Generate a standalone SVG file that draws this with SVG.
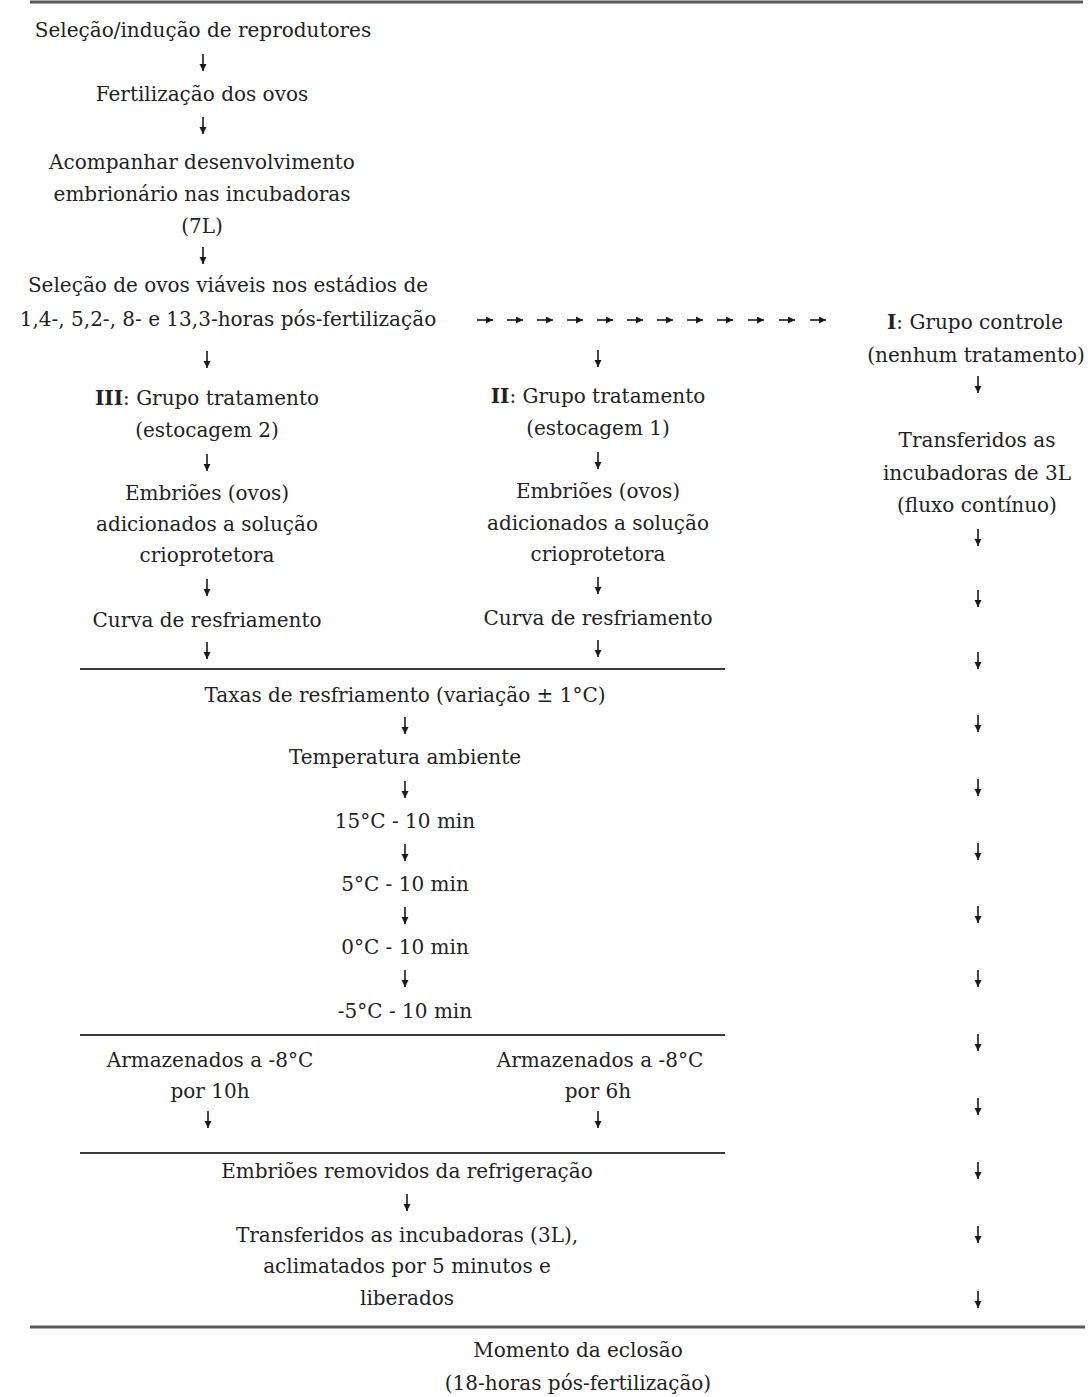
<svg xmlns="http://www.w3.org/2000/svg" width="1091" height="1397" viewBox="0 0 1091 1397">
<defs>
<marker id="ah" markerUnits="userSpaceOnUse" markerWidth="9" markerHeight="9" refX="7" refY="3.5" orient="auto">
<path d="M0,0 L7,3.5 L0,7 z" fill="#1a1a1a"/>
</marker>
<style>
text{font-family:"DejaVu Serif","Liberation Serif",serif;font-size:20px;fill:#222222;text-anchor:middle}
.b{font-weight:bold}
.a{stroke:#1a1a1a;stroke-width:1.6;marker-end:url(#ah)}
.rule{stroke:#3a3a3a;stroke-width:2}
.thick{stroke:#5a5a5a;stroke-width:3}
</style>
</defs>
<rect width="1091" height="1397" fill="#ffffff"/>

<g id="connectors">
<line class="thick" x1="30" y1="2" x2="1083" y2="2"/>
<line class="rule" x1="80" y1="669" x2="725" y2="669"/>
<line class="rule" x1="80" y1="1035" x2="725" y2="1035"/>
<line class="rule" x1="80" y1="1153" x2="725" y2="1153"/>
<line class="thick" x1="30" y1="1327" x2="1085" y2="1327"/>
<!-- main column -->
<line class="a" x1="203" y1="54" x2="203" y2="71"/>
<line class="a" x1="203" y1="117" x2="203" y2="134"/>
<line class="a" x1="203" y1="247" x2="203" y2="264"/>
<!-- horizontal arrows -->
<line class="a" x1="477" y1="320" x2="493" y2="320"/>
<line class="a" x1="507" y1="320" x2="523" y2="320"/>
<line class="a" x1="537" y1="320" x2="553" y2="320"/>
<line class="a" x1="567" y1="320" x2="583" y2="320"/>
<line class="a" x1="597" y1="320" x2="613" y2="320"/>
<line class="a" x1="627" y1="320" x2="643" y2="320"/>
<line class="a" x1="657" y1="320" x2="673" y2="320"/>
<line class="a" x1="687" y1="320" x2="703" y2="320"/>
<line class="a" x1="717" y1="320" x2="733" y2="320"/>
<line class="a" x1="748" y1="320" x2="764" y2="320"/>
<line class="a" x1="779" y1="320" x2="795" y2="320"/>
<line class="a" x1="810" y1="320" x2="826" y2="320"/>
<!-- left column -->
<line class="a" x1="207" y1="351" x2="207" y2="368"/>
<line class="a" x1="207" y1="454" x2="207" y2="471"/>
<line class="a" x1="207" y1="579" x2="207" y2="596"/>
<line class="a" x1="207" y1="642" x2="207" y2="659"/>
<!-- middle column -->
<line class="a" x1="598" y1="350" x2="598" y2="367"/>
<line class="a" x1="598" y1="452" x2="598" y2="469"/>
<line class="a" x1="598" y1="577" x2="598" y2="594"/>
<line class="a" x1="598" y1="640" x2="598" y2="657"/>
<!-- cooling chain -->
<line class="a" x1="405" y1="717" x2="405" y2="734"/>
<line class="a" x1="405" y1="781" x2="405" y2="798"/>
<line class="a" x1="405" y1="844" x2="405" y2="861"/>
<line class="a" x1="405" y1="907" x2="405" y2="924"/>
<line class="a" x1="405" y1="970" x2="405" y2="987"/>
<!-- storage -->
<line class="a" x1="208" y1="1111" x2="208" y2="1128"/>
<line class="a" x1="598" y1="1111" x2="598" y2="1128"/>
<line class="a" x1="407" y1="1194" x2="407" y2="1211"/>
<!-- right column -->
<line class="a" x1="978" y1="376" x2="978" y2="393"/>
<line class="a" x1="978" y1="529" x2="978" y2="546"/>
<line class="a" x1="978" y1="590" x2="978" y2="607"/>
<line class="a" x1="978" y1="652" x2="978" y2="669"/>
<line class="a" x1="978" y1="715" x2="978" y2="732"/>
<line class="a" x1="978" y1="779" x2="978" y2="796"/>
<line class="a" x1="978" y1="843" x2="978" y2="860"/>
<line class="a" x1="978" y1="906" x2="978" y2="923"/>
<line class="a" x1="978" y1="970" x2="978" y2="987"/>
<line class="a" x1="978" y1="1034" x2="978" y2="1051"/>
<line class="a" x1="978" y1="1098" x2="978" y2="1115"/>
<line class="a" x1="978" y1="1162" x2="978" y2="1179"/>
<line class="a" x1="978" y1="1226" x2="978" y2="1243"/>
<line class="a" x1="978" y1="1291" x2="978" y2="1308"/>
</g>

<g id="n-selecao-reprodutores"><text x="203" y="37">Seleção/indução de reprodutores</text></g>
<g id="n-fertilizacao"><text x="202" y="101">Fertilização dos ovos</text></g>
<g id="n-acompanhar">
<text x="202" y="169">Acompanhar desenvolvimento</text>
<text x="202" y="201">embrionário nas incubadoras</text>
<text x="202" y="233">(7L)</text>
</g>
<g id="n-selecao-ovos">
<text x="228" y="292">Seleção de ovos viáveis nos estádios de</text>
<text x="228" y="326">1,4-, 5,2-, 8- e 13,3-horas pós-fertilização</text>
</g>

<g id="n-grupo-controle">
<text x="975" y="329"><tspan class="b">I</tspan>: Grupo controle</text>
<text x="976" y="362">(nenhum tratamento)</text>
</g>
<g id="n-transferidos-3l">
<text x="977" y="447">Transferidos as</text>
<text x="977" y="480">incubadoras de 3L</text>
<text x="977" y="512">(fluxo contínuo)</text>
</g>

<g id="n-grupo-iii">
<text x="207" y="405"><tspan class="b">III</tspan>: Grupo tratamento</text>
<text x="207" y="437">(estocagem 2)</text>
</g>
<g id="n-embrioes-iii">
<text x="207" y="500">Embriões (ovos)</text>
<text x="207" y="531">adicionados a solução</text>
<text x="207" y="562">crioprotetora</text>
</g>
<g id="n-curva-iii"><text x="207" y="627">Curva de resfriamento</text></g>

<g id="n-grupo-ii">
<text x="598" y="403"><tspan class="b">II</tspan>: Grupo tratamento</text>
<text x="598" y="435">(estocagem 1)</text>
</g>
<g id="n-embrioes-ii">
<text x="598" y="498">Embriões (ovos)</text>
<text x="598" y="530">adicionados a solução</text>
<text x="598" y="561">crioprotetora</text>
</g>
<g id="n-curva-ii"><text x="598" y="625">Curva de resfriamento</text></g>

<g id="n-taxas"><text x="405" y="702">Taxas de resfriamento (variação ± 1°C)</text></g>
<g id="n-temp-ambiente"><text x="405" y="764">Temperatura ambiente</text></g>
<g id="n-15c"><text x="405" y="828">15°C - 10 min</text></g>
<g id="n-5c"><text x="405" y="891">5°C - 10 min</text></g>
<g id="n-0c"><text x="405" y="954">0°C - 10 min</text></g>
<g id="n-m5c"><text x="405" y="1018">-5°C - 10 min</text></g>

<g id="n-armazenados-10h">
<text x="210" y="1067">Armazenados a -8°C</text>
<text x="210" y="1098">por 10h</text>
</g>
<g id="n-armazenados-6h">
<text x="600" y="1067">Armazenados a -8°C</text>
<text x="598" y="1098">por 6h</text>
</g>

<g id="n-removidos"><text x="407" y="1178">Embriões removidos da refrigeração</text></g>
<g id="n-transferidos-aclimatados">
<text x="407" y="1242">Transferidos as incubadoras (3L),</text>
<text x="407" y="1273">aclimatados por 5 minutos e</text>
<text x="407" y="1305">liberados</text>
</g>

<g id="n-eclosao">
<text x="578" y="1357">Momento da eclosão</text>
<text x="578" y="1390">(18-horas pós-fertilização)</text>
</g>
</svg>
